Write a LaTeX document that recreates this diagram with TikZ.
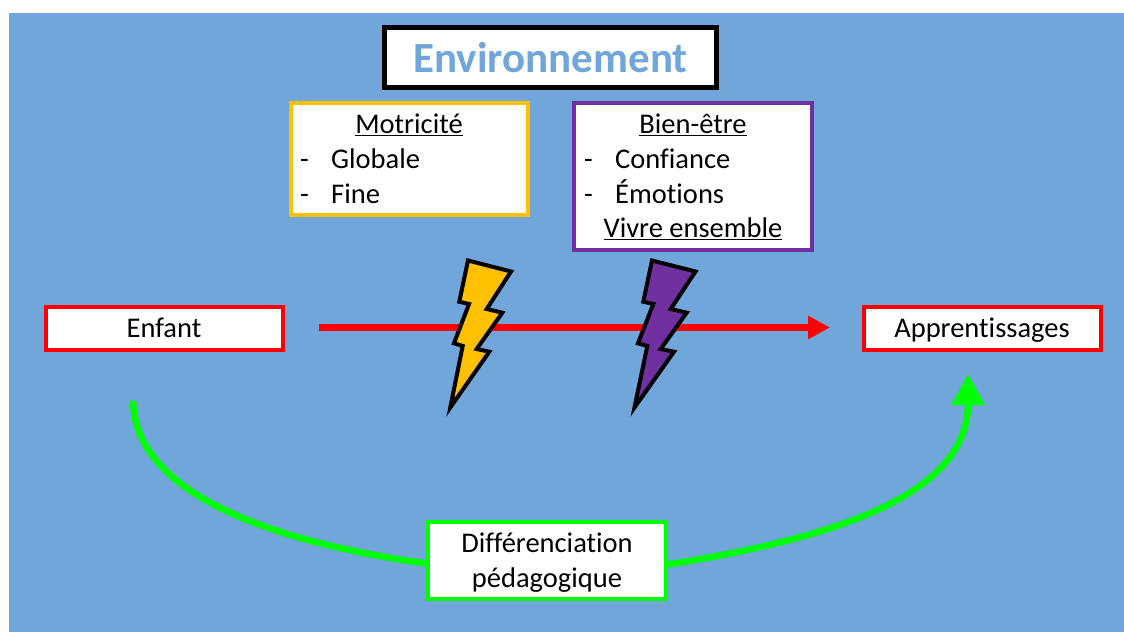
\documentclass[tikz,border=0pt]{standalone}
\usepackage{fontspec}
\setmainfont[Ligatures=NoCommon]{Carlito}
\usetikzlibrary{arrows.meta,calc}
\definecolor{bgblue}{HTML}{70A6DA}
\definecolor{gold}{HTML}{FFC000}
\definecolor{violet}{HTML}{7030A0}
\definecolor{lime}{HTML}{00FF00}
\definecolor{pureRed}{HTML}{FF0000}
\tikzset{
  x=1pt,y=-1pt,
  box/.style={draw,fill=white,line width=4pt,inner sep=0pt,font=\fontsize{28.5}{35}\selectfont,text=black},
  bolt/.style={draw=black,line width=4pt,line join=miter,miter limit=10},
  tlabel/.style={anchor=base west,inner sep=0pt,font=\fontsize{28.5}{35}\selectfont,text=black},
  ul/.style={anchor=base,inner sep=0pt,font=\fontsize{28.5}{35}\selectfont,text=black},
  conn/.style={line width=6.5pt},
}
\newcommand{\uline}[1]{\underline{#1}}
\begin{document}
\begin{tikzpicture}
\useasboundingbox (0,0) rectangle (1124,633);
\fill[white] (0,0) rectangle (1124,633);
\fill[bgblue] (9,13) rectangle (1124,632);
% title
\node[draw=black,fill=white,line width=5pt,minimum width=332pt,minimum height=60pt,inner sep=0pt,text=bgblue,text height=30pt,text depth=0pt,font=\fontsize{43}{45}\selectfont\bfseries] (env) at (550.5,57) {Environnement};
% boxes
\node[box,draw=gold,minimum width=237pt,minimum height=112pt] (mot) at (409,158.5) {};
\node[box,draw=violet,minimum width=238pt,minimum height=147pt] (bien) at (693,176.5) {};
\node[ul] (motT) at (409,133.5) {\uline{Motricité}};
\node[tlabel] (m1d) at (300,168) {-};
\node[tlabel] (m1) at (331,168) {Globale};
\node[tlabel] (m2d) at (300,203) {-};
\node[tlabel] (m2) at (331,203) {Fine};
\node[ul] (bienT) at (693,133.5) {\uline{Bien-être}};
\node[tlabel] (b1d) at (584,168) {-};
\node[tlabel] (b1) at (615,168) {Confiance};
\node[tlabel] (b2d) at (584,203) {-};
\node[tlabel] (b2) at (615,203) {Émotions};
\node[ul] (b3) at (693,237.5) {\uline{Vivre ensemble}};
% side nodes
\node[box,draw=pureRed,minimum width=237pt,minimum height=43pt,text height=24pt,text depth=6pt] (enfant) at (164,328) {Enfant};
\node[box,draw=pureRed,minimum width=237pt,minimum height=43pt,text height=24pt,text depth=6pt] (app) at (982,328) {Apprentissages};
\node[box,draw=lime,minimum width=238pt,minimum height=77pt] (diff) at (547,560.5) {};
\node[ul] (d1) at (547,552) {Différenciation};
\node[ul] (d2) at (547,587) {pédagogique};
% connectors
\coordinate (redS) at (319,327.5);
\coordinate (redE) at (830,327.5);
\draw[line width=7pt,pureRed,-{Triangle[length=22pt,width=22pt]}] (redS) -- (redE);
\coordinate (greenS) at (133,401);
\coordinate (greenE) at (968,374);
\draw[conn,lime] (greenS) .. controls (135,490) and (260,540) .. ($(diff.west)+(0,3)$);
\draw[conn,lime,-{Triangle[length=31pt,width=32pt]}] ($(diff.east)+(0,4)$) .. controls (820,540) and (968,500) .. (greenE);
% bolts
\draw[bolt,fill=gold] (468,260.5)--(511,271.5)--(486.7,309)--(502.3,312.7)--(476.7,349)--(489.3,351.7)--(450.3,407.5)--(462.7,346)--(454,343.3)--(469,304)--(459.3,301.7)--cycle;
\draw[bolt,fill=violet] (652,260.5)--(695.5,271.5)--(670.7,309)--(686.7,312.7)--(660.7,349)--(674,351.7)--(634.5,407.5)--(647.3,346)--(638,343.3)--(653.3,304)--(643.3,301.7)--cycle;
\end{tikzpicture}
\end{document}
